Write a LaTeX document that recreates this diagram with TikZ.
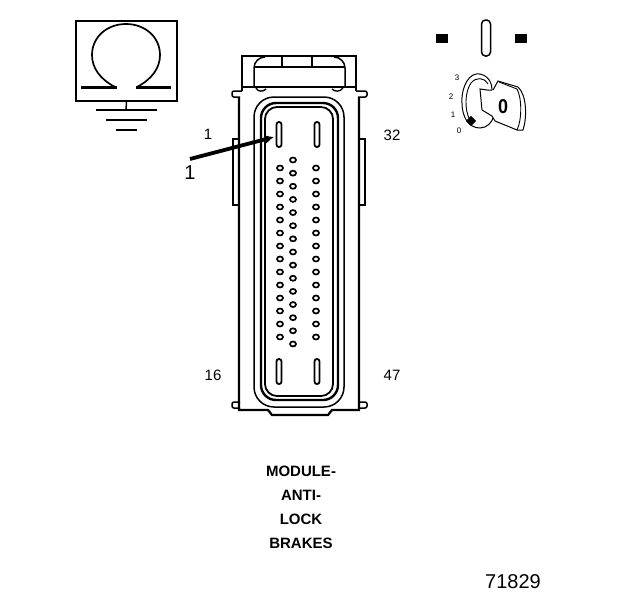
\documentclass[tikz,border=0pt]{standalone}
\usepackage{fontspec}
\setmainfont{Liberation Sans}
\usetikzlibrary{arrows.meta}
\usetikzlibrary{shapes.geometric}
\tikzset{
    contact/.style={ellipse, draw, line width=1.7pt, minimum width=6pt, minimum height=5pt, inner sep=0pt},
    pinlabel/.style={font=\fontsize{15}{16}\selectfont, inner sep=0pt},
    namelabel/.style={font=\fontsize{15}{16}\selectfont\bfseries, inner sep=0pt},
    keylabel/.style={font=\fontsize{8}{9}\selectfont, inner sep=0pt},
    blade/.style={draw, line width=1.8pt, rounded corners=2.4pt, minimum width=5pt, minimum height=25pt, inner sep=0pt}
}
\begin{document}
\begin{tikzpicture}[x=1pt, y=-1pt, line width=1.5pt]
        \useasboundingbox (0,0) rectangle (624,600);
        % Ground symbol in its box
        \node[draw, line width=1.7pt, minimum width=101pt, minimum height=80pt, inner sep=0pt] (box) at (126.5,61) {};
        \draw[line width=1.7pt] (115,87) .. controls (100,79) and (92,68) .. (92,55) .. controls (92,37) and (107,24) .. (126,24)
            .. controls (145,24) and (160,37) .. (160,55) .. controls (160,68) and (152,79) .. (137,87);
        \draw[line width=3pt] (81,87) -- (117,87);
        \draw[line width=3pt] (136,87) -- (171,87);
        \coordinate (g1) at (126,110);
        \draw (box.south) -- (g1);
        \draw (96,110) -- (157,110);
        \draw (106,120) -- (147,120);
        \draw (116,130) -- (137,130);
        % Key symbol
        \node[fill, minimum width=12pt, minimum height=9pt, inner sep=0pt] (sqL) at (442,38) {};
        \node[fill, minimum width=12pt, minimum height=9pt, inner sep=0pt] (sqR) at (521,38) {};
        \node[draw, line width=1.5pt, rounded corners=4pt, minimum width=9pt, minimum height=36pt, inner sep=0pt] (slot) at (486,38) {};
        \node[keylabel] (k3) at (457,78) {3};
        \node[keylabel] (k2) at (451,97) {2};
        \node[keylabel] (k1) at (453,115) {1};
        \node[keylabel] (k0) at (459,131) {0};
        \draw[line width=1pt] (492,90) .. controls (492,78) and (483,73) .. (476,74) .. controls (466,76) and (461,92) .. (462,103)
            .. controls (462,116) and (468,128) .. (480,128) .. controls (487,128) and (492,122) .. (493,118);
        \draw[line width=0.9pt] (488,84) .. controls (484,77) and (476,77) .. (471,83) .. controls (465,91) and (464,110) .. (470,120);
        \draw[line width=1pt] (493,90) -- (498,81) -- (518,87) .. controls (527,95) and (527,118) .. (523,130) -- (517,130) -- (495,121) -- (492,116)
            -- (482,110) -- (480,89) -- (487,90) -- (492,90);
        \draw[line width=0.9pt] (499,82) -- (517,89) .. controls (522,98) and (522,120) .. (517,130);
        \node[diamond, fill, minimum width=11pt, minimum height=11pt, inner sep=0pt] (mark) at (471,121) {};
        \node[font=\fontsize{20}{20}\selectfont\bfseries, inner sep=0pt, xscale=0.9] (keyzero) at (503,107) {0};
        % Connector housing
        \draw[line width=1.9pt] (242,91) -- (242,56) -- (356,56) -- (356,91);
        \draw[line width=1.9pt] (242,87) -- (356,87);
        \draw[line width=1.5pt] (254,87) -- (254,68) .. controls (254,62) and (259,57) .. (265,57);
        \draw[line width=1.5pt] (345,87) -- (345,68) .. controls (345,62) and (340,57) .. (334,57);
        \draw[line width=1.5pt] (254,67) -- (345,67);
        \draw[line width=1.5pt] (282,57) -- (282,67);
        \draw[line width=1.5pt] (312,57) -- (312,67);
        \draw[line width=1.4pt] (256,88) .. controls (258,92) and (263,92) .. (266,89);
        \draw[line width=1.4pt] (332,89) .. controls (335,92) and (340,92) .. (343,88);
        \draw[line width=2.2pt] (239,97) -- (239,410) -- (268,410) -- (272,415) -- (328,415) -- (332,410) -- (359,410) -- (359,97);
        % Ears
        \draw[rounded corners=2pt] (242,91) -- (232,91) -- (232,97) -- (240,97);
        \draw[rounded corners=2pt] (356,91) -- (367,91) -- (367,97) -- (358,97);
        \draw[rounded corners=2pt] (240,402) -- (232,402) -- (232,408) -- (240,408);
        \draw[rounded corners=2pt] (358,402) -- (367,402) -- (367,408) -- (358,408);
        % Side tabs
        \draw (238,139) -- (233,139) -- (233,205) -- (238,205);
        \draw (360,139) -- (365,139) -- (365,205) -- (360,205);
        % Inner rings
        \draw[line width=1.5pt, rounded corners=20pt] (254,97) rectangle (344,407);
        \draw[line width=2.4pt, rounded corners=15pt] (261,103) rectangle (338,400);
        \draw[line width=1.8pt, rounded corners=12pt] (265,107) rectangle (333,396);
        % Blades
        \node[blade] (bladeA) at (279,134.5) {};
        \node[blade] (bladeB) at (317,134.5) {};
        \node[blade] (bladeC) at (279,371.5) {};
        \node[blade] (bladeD) at (317,371.5) {};
        % Contacts
        \foreach \i in {0,...,13} {
            \node[contact] (A\i) at (280,168+13*\i) {};
            \node[contact] (C\i) at (316,168+13*\i) {};
        }
        \foreach \i in {0,...,14} {
            \node[contact] (B\i) at (293,160+13.14*\i) {};
        }
        % Pin labels
        \node[pinlabel] (p1) at (208,134) {1};
        \node[pinlabel] (p32) at (392,135) {32};
        \node[pinlabel] (p16) at (213,375) {16};
        \node[pinlabel] (p47) at (392,375) {47};
        % Arrow to pin 1
        \coordinate (arrowstart) at (190,159);
        \coordinate (arrowend) at (274,137);
        \draw[line width=3.8pt, -{Latex[length=9pt, width=9pt]}] (arrowstart) -- (arrowend);
        \node[font=\fontsize{20}{20}\selectfont, inner sep=0pt] (callout) at (190,173) {1};
        % Module name
        \node[namelabel] (name1) at (301,471) {MODULE-};
        \node[namelabel] (name2) at (301,495) {ANTI-};
        \node[namelabel] (name3) at (301,519) {LOCK};
        \node[namelabel] (name4) at (301,543) {BRAKES};
        % Figure number
        \node[font=\fontsize{20}{20}\selectfont, inner sep=0pt] (fignum) at (513,582) {71829};
        \end{tikzpicture}
\end{document}
